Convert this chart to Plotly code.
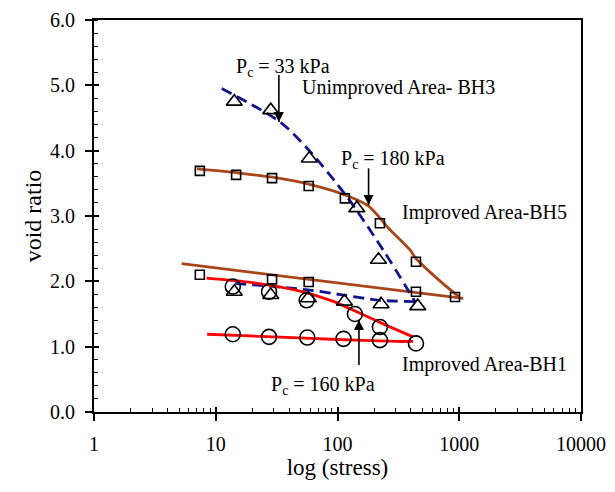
import plotly.graph_objects as go

# ---- data ----
# Improved Area - BH5 (squares, brown)
bh5_pts_x = [7.4, 14.7, 29, 58, 115, 223, 441, 923, 441, 58, 29, 7.4]
bh5_pts_y = [3.69, 3.63, 3.58, 3.46, 3.27, 2.89, 2.30, 1.76, 1.84, 1.99, 2.03, 2.10]
bh5_load_x = [7.0, 15, 30, 60, 120, 180, 270, 394, 441, 700, 1000]
bh5_load_y = [3.72, 3.66, 3.59, 3.48, 3.31, 3.15, 2.79, 2.48, 2.35, 2.00, 1.76]
bh5_unload_x = [1080, 5.25]
bh5_unload_y = [1.74, 2.27]

# Unimproved Area - BH3 (triangles, blue dashed)
bh3_pts_x = [14.2, 28.3, 58.7, 144, 217, 456, 228, 114, 57.6, 28.3, 14.2]
bh3_pts_y = [4.75, 4.62, 3.88, 3.12, 2.33, 1.62, 1.65, 1.69, 1.74, 1.79, 1.84]
bh3_load_x = [11.2, 33.7, 58, 119, 237, 433]
bh3_load_y = [4.95, 4.44, 4.01, 3.30, 2.48, 1.69]
bh3_unload_x = [433, 223, 112, 57, 13.9]
bh3_unload_y = [1.69, 1.71, 1.79, 1.87, 1.97]

# Improved Area - BH1 (circles, red)
bh1_pts_x = [13.8, 27.4, 56.5, 112, 223, 441, 13.8, 27.4, 55.8, 139, 223]
bh1_pts_y = [1.19, 1.15, 1.14, 1.12, 1.10, 1.05, 1.92, 1.84, 1.71, 1.50, 1.30]
bh1_upper_x = [8.4, 20, 52, 90, 134, 250, 418]
bh1_upper_y = [2.05, 1.98, 1.84, 1.70, 1.56, 1.33, 1.15]
bh1_lower_x = [8.5, 30, 100, 300, 418]
bh1_lower_y = [1.19, 1.15, 1.11, 1.08, 1.08]

x_tickvals = [1, 10, 100, 1000, 10000]
x_ticktext = ["1", "10", "100", "1000", "10000"]
y_tickvals = [0, 1, 2, 3, 4, 5, 6]

# preconsolidation pressure arrows: stress, tip void ratio, tail void ratio
pc_x = [33, 180, 150]
pc_tip = [4.44, 3.17, 1.41]
pc_tail = [5.16, 3.73, 0.72]

BROWN = "#A8461A"
RED = "#FF0000"
BLUE = "#14148C"
FONT = "Liberation Serif"

fig = go.Figure()

def line(x, y, color, dash="solid", shape="spline"):
    fig.add_trace(go.Scatter(x=x, y=y, mode="lines", showlegend=False,
                             line=dict(color=color, width=2.8, dash=dash, shape=shape,
                                       smoothing=0.8),
                             hoverinfo="skip"))

line(bh5_load_x, bh5_load_y, BROWN)
line(bh5_unload_x, bh5_unload_y, BROWN, shape="linear")
line(bh3_load_x, bh3_load_y, BLUE, dash="11px,6px")
line(bh3_unload_x, bh3_unload_y, BLUE, dash="11px,6px")
line(bh1_upper_x, bh1_upper_y, RED)
line(bh1_lower_x, bh1_lower_y, RED)

def pts(x, y, symbol, size):
    fig.add_trace(go.Scatter(x=x, y=y, mode="markers", showlegend=False,
                             marker=dict(symbol=symbol, size=size, color="black",
                                         line=dict(color="black", width=1.6))))

pts(bh5_pts_x, bh5_pts_y, "square-open", 9)
pts(bh3_pts_x, bh3_pts_y, "triangle-up-open", 14)
pts(bh1_pts_x, bh1_pts_y, "circle-open", 15)

# arrows: a stem line plus an arrowhead marker whose point sits on the tip
for xv, tip, tail in zip(pc_x, pc_tip, pc_tail):
    fig.add_trace(go.Scatter(x=[xv, xv], y=[tail, tip], mode="lines", showlegend=False,
                             line=dict(color="black", width=1.6), hoverinfo="skip"))
    fig.add_trace(go.Scatter(x=[xv], y=[tip], mode="markers", showlegend=False,
                             marker=dict(symbol="arrow-down" if tip < tail else "arrow-up",
                                         size=10, color="black",
                                         line=dict(width=0)),
                             hoverinfo="skip"))

# empty trace on overlay axes that carry the inner half of the major ticks
fig.add_trace(go.Scatter(x=[], y=[], xaxis="x2", yaxis="y2", showlegend=False))

annotations = []

def label(text, lx, y):
    annotations.append(dict(x=lx, y=y, xref="x", yref="y", text=text,
                            showarrow=False, xanchor="left", yanchor="middle",
                            font=dict(family=FONT, size=20, color="black")))

label("P<sub>c</sub> = 33 kPa", 1.15, 5.27)
label("Unimproved Area- BH3", 1.69, 4.97)
label("P<sub>c</sub> = 180 kPa", 2.01, 3.86)
label("Improved Area-BH5", 2.51, 3.05)
label("Improved Area-BH1", 2.51, 0.73)
label("P<sub>c</sub> = 160 kPa", 1.44, 0.40)

minor_x = [m * 10 ** k for k in range(4) for m in range(2, 10)]

fig.update_layout(
    width=615, height=492,
    margin=dict(l=94, r=34, t=20, b=80),
    paper_bgcolor="white", plot_bgcolor="white",
    font=dict(family=FONT, size=20, color="black"),
    annotations=annotations,
    xaxis=dict(type="log", range=[0, 4], showgrid=False, zeroline=False,
               automargin=False,
               showline=True, linecolor="black", linewidth=2, mirror=True,
               ticks="outside", ticklen=7, tickwidth=1.5, tickcolor="black",
               tickvals=x_tickvals, ticktext=x_ticktext,
               ticklabelstandoff=6,
               minor=dict(ticks="inside", ticklen=4, tickwidth=1.2,
                          tickcolor="black", tickvals=minor_x, showgrid=False),
               title=dict(text="log (stress)",
                          font=dict(family=FONT, size=23, color="black"),
                          standoff=2)),
    yaxis=dict(range=[0, 6], showgrid=False, zeroline=False,
               automargin=False,
               showline=True, linecolor="black", linewidth=2, mirror=True,
               ticks="outside", ticklen=7, tickwidth=1.5, tickcolor="black",
               tickvals=y_tickvals, tickformat=".1f",
               ticklabelstandoff=6,
               minor=dict(ticks="inside", ticklen=4, tickwidth=1.2,
                          tickcolor="black", dtick=0.2, showgrid=False),
               title=dict(text="void ratio",
                          font=dict(family=FONT, size=24, color="black"),
                          standoff=2)),
    xaxis2=dict(type="log", range=[0, 4], overlaying="x", anchor="y2", side="bottom",
                showgrid=False, zeroline=False, showline=False, automargin=False,
                ticks="inside", ticklen=5, tickwidth=1.5, tickcolor="black",
                tickvals=x_tickvals, showticklabels=False),
    yaxis2=dict(range=[0, 6], overlaying="y", anchor="x2", side="left",
                showgrid=False, zeroline=False, showline=False, automargin=False,
                ticks="inside", ticklen=5, tickwidth=1.5, tickcolor="black",
                tickvals=y_tickvals, showticklabels=False),
)

fig.write_html("out.html", config={"displayModeBar": False},
               post_script="document.body.style.margin='0px';")
